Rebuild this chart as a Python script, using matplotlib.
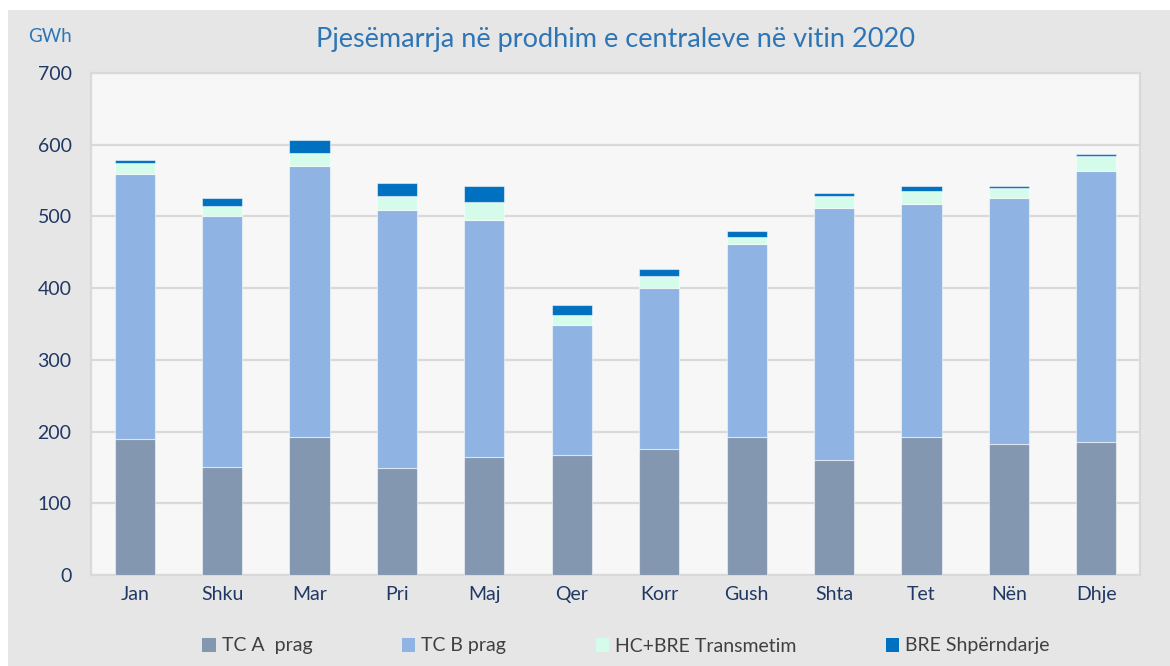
import numpy as np
import matplotlib
matplotlib.use("Agg")
import matplotlib.pyplot as plt
from matplotlib.patches import Patch, Rectangle

plt.rcParams['font.family'] = ['Lato', 'DejaVu Sans']

months = ["Jan", "Shku", "Mar", "Pri", "Maj", "Qer",
          "Korr", "Gush", "Shta", "Tet", "Nën", "Dhje"]

# GWh per source
tc_a = [190, 151, 193, 149, 165, 168, 176, 193, 160, 193, 182, 185]
tc_b = [369, 349, 377, 360, 330, 180, 224, 269, 352, 324, 344, 379]
hc_bre_trans = [16, 15, 19, 19, 25, 14, 17, 10, 16, 19, 13, 20]
bre_shp = [4, 11, 17, 18, 22, 14, 9, 7, 4, 7, 4, 3]

series = [tc_a, tc_b, hc_bre_trans, bre_shp]
names = ["TC A  prag", "TC B prag", "HC+BRE Transmetim", "BRE Shpërndarje"]
colors = ["#8497B0", "#8FB4E3", "#D5FCEB", "#0070C0"]

fig = plt.figure(figsize=(11.7, 6.66), dpi=100)
fig.patch.set_facecolor("white")
# grey panel behind the chart (white strip on top and left)
fig.add_artist(Rectangle((8 / 1170, 0), 1, 1 - 10 / 666, transform=fig.transFigure,
                         facecolor="#E6E6E6", edgecolor="none", zorder=-10))

ax = fig.add_axes([91 / 1170, 91 / 666, 1049 / 1170, 502 / 666])
ax.set_facecolor("#F7F7F7")

ind = np.arange(len(months))
bottom = np.zeros(len(months))
for vals, c in zip(series, colors):
    vals = np.array(vals, dtype=float)
    ax.bar(ind, vals, 0.46, bottom=bottom, color=c,
           edgecolor=(1, 1, 1, 0.5), linewidth=0.8, zorder=3)
    bottom += vals

ax.set_xlim(-0.5, len(months) - 0.5)
ax.set_ylim(0, 700)
ax.set_yticks(range(0, 701, 100))
ax.set_xticks(ind)
ax.set_xticklabels(months)
ax.yaxis.grid(True, color="#D9D9D9", linewidth=1.6, zorder=0)
ax.set_axisbelow(True)
ax.tick_params(axis="y", length=0, pad=14, labelsize=14, labelcolor="#203864")
ax.tick_params(axis="x", length=0, pad=8, labelsize=14, labelcolor="#203864")
for s in ax.spines.values():
    s.set_color("#D9D9D9")
    s.set_linewidth(1.6)

fig.text(615 / 1170, 1 - 40 / 666, "Pjesëmarrja në prodhim e centraleve në vitin 2020",
         ha="center", va="center", fontsize=19.5, color="#2E75B6")
fig.text(50 / 1170, 1 - 36 / 666, "GWh", ha="center", va="center",
         fontsize=13.5, color="#2E75B6")

handles = [Patch(facecolor=c, edgecolor="none") for c in colors]
fig.legend(handles, names, loc="center", bbox_to_anchor=(626 / 1170, 1 - 646 / 666),
           ncol=4, frameon=False, fontsize=14, labelcolor="#404040",
           handlelength=0.7, handleheight=0.7, handletextpad=0.3, columnspacing=4.6)

plt.savefig("out.png", dpi=100)
